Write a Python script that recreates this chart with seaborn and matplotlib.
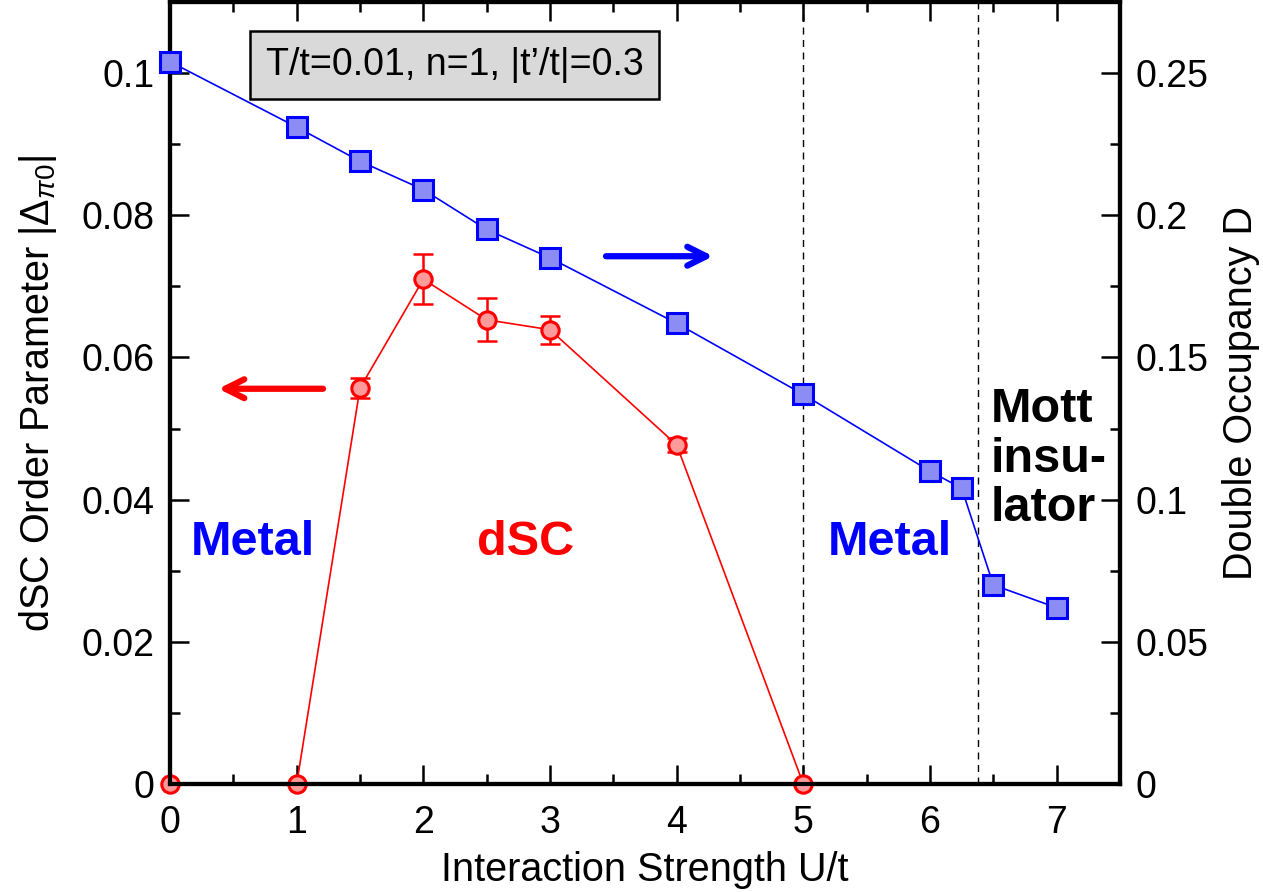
import matplotlib
matplotlib.use("Agg")
import matplotlib.pyplot as plt
import seaborn as sns
import numpy as np
import pandas as pd

# ---- data ----
u_dsc = [0, 1, 1.5, 2, 2.5, 3, 4, 5]
dsc = [0.0, 0.0, 0.0557, 0.0710, 0.0653, 0.0639, 0.0477, 0.0]
dsc_err = [0.0, 0.0, 0.0014, 0.0035, 0.0030, 0.0020, 0.0010, 0.0]

u_docc = [0, 1, 1.5, 2, 2.5, 3, 4, 5, 6, 6.25, 6.5, 7]
docc = [0.254, 0.231, 0.219, 0.209, 0.195, 0.185, 0.162, 0.137, 0.110, 0.104, 0.070, 0.062]

x_ticks = [0, 1, 2, 3, 4, 5, 6, 7]
left_ticks = [0, 0.02, 0.04, 0.06, 0.08, 0.1]
left_labels = ["0", "0.02", "0.04", "0.06", "0.08", "0.1"]
right_ticks = [0, 0.05, 0.1, 0.15, 0.2, 0.25]
right_labels = ["0", "0.05", "0.1", "0.15", "0.2", "0.25"]
boundaries = [5.0, 6.38]

sns.set_theme(style="white")
plt.rcParams['font.family'] = ['Liberation Sans', 'DejaVu Sans']
plt.rcParams['mathtext.fontset'] = 'custom'
plt.rcParams['mathtext.rm'] = 'Liberation Sans'
plt.rcParams['mathtext.it'] = 'Liberation Sans:italic'
plt.rcParams['mathtext.bf'] = 'Liberation Sans:bold'
plt.rcParams['text.color'] = 'black'
plt.rcParams['axes.labelcolor'] = 'black'
plt.rcParams['xtick.color'] = 'black'
plt.rcParams['ytick.color'] = 'black'

fig = plt.figure(figsize=(12.63, 8.92), dpi=100)
ax = fig.add_axes([0.1346, 0.121, 0.8868 - 0.1346, 0.9978 - 0.121])
ax2 = ax.twinx()

df1 = pd.DataFrame({"U": u_dsc, "D": dsc})
df2 = pd.DataFrame({"U": u_docc, "Docc": docc})

sns.lineplot(data=df1, x="U", y="D", ax=ax, color="red", lw=1.2, marker="o",
             markersize=12.5, markerfacecolor="#ff9a9a", markeredgecolor="red",
             markeredgewidth=2.2, clip_on=False, zorder=5)
ax.errorbar(u_dsc, dsc, yerr=dsc_err, fmt="none", ecolor="red", elinewidth=1.8,
            capsize=7.5, capthick=1.8, zorder=4)

sns.lineplot(data=df2, x="U", y="Docc", ax=ax2, color="blue", lw=1.2, marker="s",
             markersize=14, markerfacecolor="#8c8cf5", markeredgecolor="blue",
             markeredgewidth=2.2, clip_on=False, zorder=5)

for b in boundaries:
    ax.axvline(b, color="black", ls=(0, (5, 4)), lw=1.0, zorder=1)

ax.set_xlim(0, 7.5)
ax.set_ylim(0, 0.11)
ax2.set_ylim(0, 0.275)

ax.set_xticks(x_ticks)
ax.set_xticks(np.arange(0.5, 7.5, 1.0), minor=True)
ax.set_yticks(left_ticks)
ax.set_yticklabels(left_labels)
ax.set_yticks(np.arange(0.01, 0.11, 0.02), minor=True)
ax2.set_yticks(right_ticks)
ax2.set_yticklabels(right_labels)
ax2.set_yticks(np.arange(0.025, 0.275, 0.05), minor=True)

fs = 27
ax.tick_params(axis="both", which="major", direction="in", length=14, width=1.8,
               labelsize=fs, top=True, bottom=True, left=True, right=False, color="black",
               labelcolor="black")
ax.tick_params(axis="x", which="major", pad=15)
ax.tick_params(axis="y", which="major", pad=11)
ax.tick_params(axis="both", which="minor", direction="in", length=7, width=1.8,
               top=True, bottom=True, left=True, right=False, color="black")
ax2.tick_params(axis="y", which="major", direction="in", length=14, width=1.8,
                labelsize=fs, right=True, left=False, pad=11, color="black", labelcolor="black")
ax2.tick_params(axis="y", which="minor", direction="in", length=7, width=1.8,
                right=True, left=False, color="black")

for a in (ax, ax2):
    for s in a.spines.values():
        s.set_linewidth(3)
        s.set_color("black")

lfs = 28.5
ax.set_xlabel("Interaction Strength U/t", fontsize=lfs, labelpad=7)
ax.set_ylabel(r"dSC Order Parameter $|\Delta_{\pi0}|$", fontsize=lfs, labelpad=16)
ax2.set_ylabel("Double Occupancy D", fontsize=lfs, labelpad=10)

ax.text(2.247, 0.1011, "T/t=0.01, n=1, |t\u2019/t|=0.3", fontsize=27, ha="center", va="center",
        bbox=dict(boxstyle="square,pad=0.42", facecolor="#d9d9d9", edgecolor="black", lw=1.8),
        zorder=6)

tfs = 35
ax.text(0.655, 0.034, "Metal", color="blue", fontsize=tfs, fontweight="bold", ha="center", va="center")
ax.text(2.81, 0.034, "dSC", color="red", fontsize=tfs, fontweight="bold", ha="center", va="center")
ax.text(5.68, 0.034, "Metal", color="blue", fontsize=tfs, fontweight="bold", ha="center", va="center")
ax.text(6.48, 0.0558, "Mott\ninsu-\nlator", color="black", fontsize=tfs, fontweight="bold",
        ha="left", va="top", linespacing=1.13)

ax.annotate("", xy=(0.36, 0.0556), xytext=(1.23, 0.0556),
            arrowprops=dict(arrowstyle="->", color="red", lw=4.5, mutation_scale=34))
ax2.annotate("", xy=(4.31, 0.1856), xytext=(3.42, 0.1856),
             arrowprops=dict(arrowstyle="->", color="blue", lw=4.5, mutation_scale=34))

ax2.set_zorder(ax.get_zorder() + 1)
ax2.patch.set_visible(False)

fig.savefig("out.png", dpi=100, facecolor="white")
